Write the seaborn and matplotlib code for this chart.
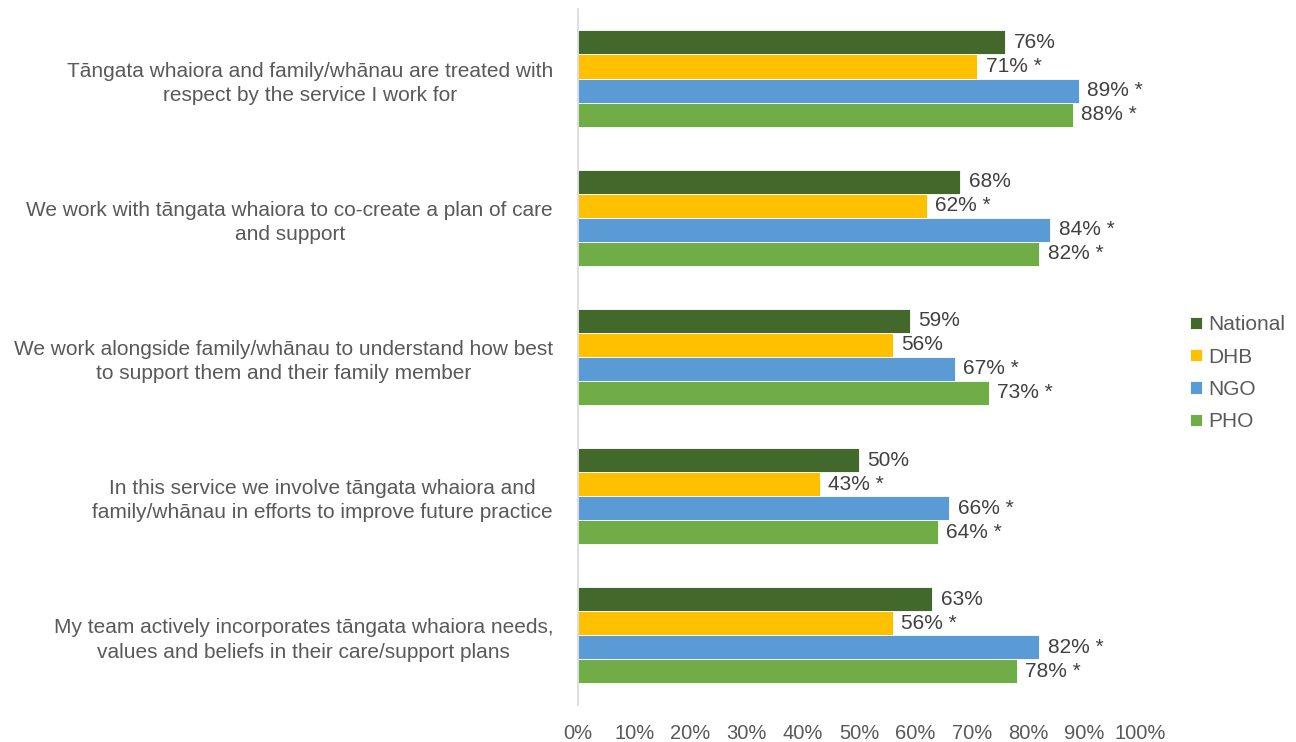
import matplotlib
matplotlib.use("Agg")
import matplotlib.pyplot as plt
import seaborn as sns
import pandas as pd

# Survey statements (y-axis categories)
statements = [
    "Tāngata whaiora and family/whānau are treated with\nrespect by the service I work for",
    "We work with tāngata whaiora to co-create a plan of care\nand support",
    "We work alongside family/whānau to understand how best\nto support them and their family member",
    "In this service we involve tāngata whaiora and\nfamily/whānau in efforts to improve future practice",
    "My team actively incorporates tāngata whaiora needs,\nvalues and beliefs in their care/support plans",
]

groups = ["National", "DHB", "NGO", "PHO"]

# Percent agreeing, per group
national = [76, 68, 59, 50, 63]
dhb = [71, 62, 56, 43, 56]
ngo = [89, 84, 67, 66, 82]
pho = [88, 82, 73, 64, 78]

# Significant difference from national (marked with *)
dhb_sig = [True, True, False, True, True]
ngo_sig = [True, True, True, True, True]
pho_sig = [True, True, True, True, True]
national_sig = [False] * 5

palette = ["#43682B", "#FFC000", "#5B9BD5", "#70AD47"]
text_color = "#595959"
label_color = "#404040"

values = [national, dhb, ngo, pho]
sigs = [national_sig, dhb_sig, ngo_sig, pho_sig]

rows = []
for g, vals in zip(groups, values):
    for s, v in zip(statements, vals):
        rows.append({"statement": s, "group": g, "value": v})
df = pd.DataFrame(rows)

sns.set_theme(style="white")
plt.rcParams["font.family"] = ["Liberation Sans", "DejaVu Sans"]

fig = plt.figure(figsize=(12.96, 7.42), dpi=100)
ax = fig.add_axes([0.446, 0.050, 0.434, 0.938])

sns.barplot(
    data=df, y="statement", x="value", hue="group",
    order=statements, hue_order=groups, palette=palette,
    orient="h", width=0.69, saturation=1, ax=ax,
    edgecolor="white", linewidth=0.6, legend=True,
)

for cont, vals, sg in zip(ax.containers, values, sigs):
    labels = [f"{v}%" + (" *" if s else "") for v, s in zip(vals, sg)]
    ax.bar_label(cont, labels=labels, padding=6, fontsize=15, color=label_color)

ax.set_xlim(0, 100)
ax.set_xticks(range(0, 101, 10))
ax.set_xticklabels([f"{t}%" for t in range(0, 101, 10)])
ax.set_xlabel("")
ax.set_ylabel("")

for side in ["top", "right", "bottom"]:
    ax.spines[side].set_visible(False)
ax.spines["left"].set_color("#D9D9D9")
ax.spines["left"].set_linewidth(1.2)

ax.tick_params(axis="x", length=0, pad=14, labelsize=14.5, labelcolor=text_color)
ax.tick_params(axis="y", length=0, pad=18, labelsize=15, labelcolor=text_color)
for lbl in ax.get_yticklabels():
    lbl.set_multialignment("center")
    lbl.set_linespacing(1.35)

handles, labels = ax.get_legend_handles_labels()
ax.get_legend().remove()
fig.legend(
    handles, labels, loc="center left", bbox_to_anchor=(0.904, 0.497),
    frameon=False, fontsize=15, labelcolor=text_color,
    handlelength=0.55, handleheight=0.55, handletextpad=0.3, labelspacing=0.64,
)

fig.savefig("out.png", dpi=100)
